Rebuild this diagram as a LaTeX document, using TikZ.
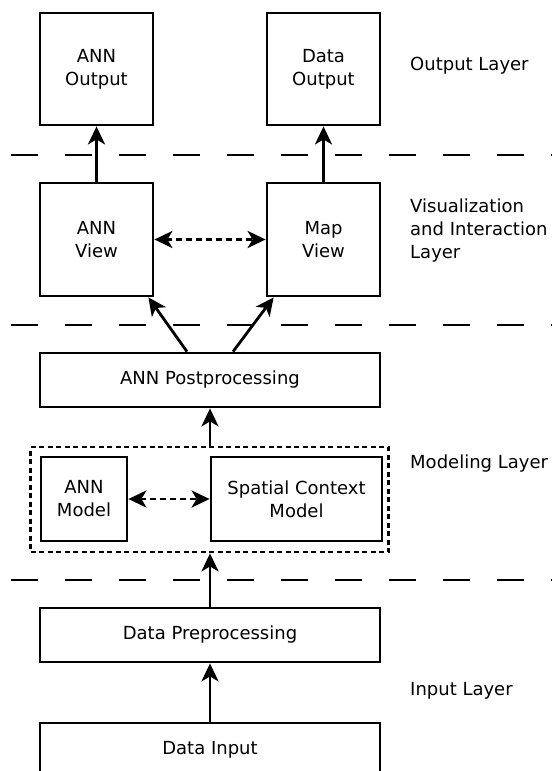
\documentclass[tikz,border=0pt]{standalone}
\usepackage{fontspec}
\setmainfont{DejaVu Sans}
\usetikzlibrary{arrows.meta,calc}
\begin{document}
\begin{tikzpicture}[x=1pt,y=-1pt,
  box/.style={draw,line width=2.8pt,inner sep=0pt,align=center,font=\fontsize{18}{23}\selectfont},
  lbl/.style={anchor=west,align=left,inner sep=0pt,font=\fontsize{18}{23}\selectfont},
  arr/.style={line width=2.8pt,-{Stealth[length=18pt,width=17pt,inset=5pt]}},
  darr/.style={line width=2.8pt,dash pattern=on 6pt off 4pt,{Stealth[length=18pt,width=17pt,inset=5pt]}-{Stealth[length=18pt,width=17pt,inset=5pt]}},
  sep/.style={line width=2.8pt,dash pattern=on 27pt off 27pt}]
\useasboundingbox[fill=white] (0,0) rectangle (552,771);
% separators
\draw[sep] (11,155) -- (552,155);
\draw[sep] (11,325) -- (552,325);
\draw[sep] (11,580) -- (552,580);
% boxes
\node[box,minimum width=113pt,minimum height=112pt] (ao) at (96.5,69) {ANN\\Output};
\node[box,minimum width=113pt,minimum height=112pt] (do) at (323.5,69) {Data\\Output};
\node[box,minimum width=113pt,minimum height=113pt] (av) at (96.5,239.5) {ANN\\View};
\node[box,minimum width=113pt,minimum height=113pt] (mv) at (323.5,239.5) {Map\\View};
\node[box,minimum width=340pt,minimum height=54pt] (pp) at (210,380) {ANN Postprocessing};
\node[draw,line width=2.8pt,dash pattern=on 5pt off 3.5pt,minimum width=358pt,minimum height=105pt,inner sep=0pt] (ml) at (209.5,499.5) {};
\node[box,minimum width=86pt,minimum height=84pt] (am) at (84,499) {ANN\\Model};
\node[box,minimum width=171pt,minimum height=84pt] (sc) at (296.5,499) {Spatial Context\\Model};
\node[box,minimum width=340pt,minimum height=54pt] (dp) at (210,635) {Data Preprocessing};
\node[box,minimum width=340pt,minimum height=54pt] (di) at (210,750) {Data Input};
% labels
\node[lbl] (l1) at (410,66) {Output Layer};
\node[lbl] (l2) at (410,231) {Visualization\\and Interaction\\Layer};
\node[lbl] (l3) at (410,464) {Modeling Layer};
\node[lbl] (l4) at (410,691) {Input Layer};
% connectors
\draw[arr] (av.north) -- (ao.south);
\draw[arr] (mv.north) -- (do.south);
\draw[darr] (av.east) -- (mv.west);
\draw[arr] ($(pp.north)+(-23,0)$) -- ($(av.south east)+(-6,0)$);
\draw[arr] ($(pp.north)+(23,0)$) -- ($(mv.south west)+(8,0)$);
\draw[arr] (ml.north -| pp.south) -- (pp.south);
\draw[darr] (am.east) -- (sc.west);
\draw[arr] (dp.north) -- (ml.south -| dp.north);
\draw[arr] (di.north) -- (dp.south);
\end{tikzpicture}
\end{document}
